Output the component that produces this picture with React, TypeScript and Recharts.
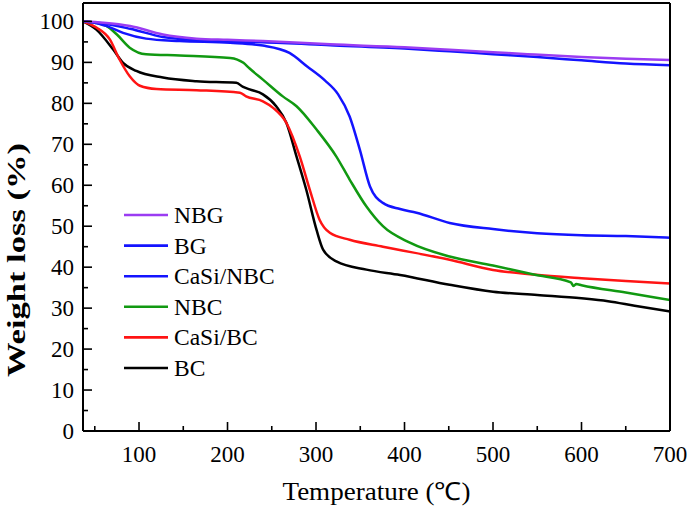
import React from 'react';
import { LineChart, Line, XAxis, YAxis, Legend } from 'recharts';

const FONT = '"Liberation Serif", "Times New Roman", Times, serif';

// Temperature (°C) / weight (%) samples
const NBG_T = [37, 60, 90, 127, 165, 200, 240, 316, 400, 451, 500, 539, 600, 650, 700];
const NBG_W = [100, 99.7, 98.9, 96.8, 95.8, 95.5, 95.2, 94.4, 93.7, 93.1, 92.5, 92.0, 91.3, 90.9, 90.6];

const BG_T = [37, 60, 90, 127, 165, 200, 240, 316, 400, 451, 500, 550, 600, 650, 700];
const BG_W = [100, 99.5, 98.2, 96.2, 95.4, 95.1, 94.9, 94.2, 93.4, 92.7, 92.0, 91.3, 90.5, 89.7, 89.3];

const CASI_NBC_T = [37, 50, 63, 82, 108, 146, 203, 240, 270, 290, 310, 325, 338, 349.5, 361, 375.6, 395, 413.6, 451, 500, 550, 600, 650, 700];
const CASI_NBC_W = [100, 99.7, 98.9, 97.2, 95.8, 95.2, 94.8, 94.1, 92.3, 89.0, 85.6, 82.2, 76.8, 68.7, 59.7, 55.7, 54.2, 53.3, 50.8, 49.3, 48.3, 47.8, 47.6, 47.2];

const NBC_T = [37, 50, 63, 75, 89.5, 108, 146, 203, 218, 225, 240, 262.5, 278, 300.6, 323, 338, 357, 375.6, 406, 451, 500, 546, 588, 591, 594, 600, 650, 700];
const NBC_W = [100, 99.7, 98.9, 96.8, 93.6, 92, 91.7, 91.1, 89.9, 88.5, 85.8, 81.7, 79.3, 73.6, 67, 61.4, 54.8, 50, 46, 42.6, 40.4, 38.2, 36.3, 35.4, 35.9, 35.6, 33.8, 32];

const CASI_BC_T = [37, 51.8, 67, 78, 89.5, 101, 119.7, 165, 214, 221, 240, 251.5, 266.6, 281.7, 293, 304, 315.6, 338, 375.6, 451, 500, 546, 600, 650, 700];
const CASI_BC_W = [100, 98.5, 95.6, 90.7, 86.6, 84.3, 83.5, 83.2, 82.6, 81.7, 80.5, 78.9, 75.2, 67, 58.9, 51.6, 48.4, 46.7, 45, 41.8, 39.3, 38.2, 37.3, 36.6, 36];

const BC_T = [37, 51.8, 70.6, 82, 97, 127, 165, 210, 217.6, 225, 240, 255, 266.6, 278, 289, 300.6, 308, 323, 357, 395, 451, 500, 550, 600, 630, 660, 700];
const BC_W = [100, 98, 93.2, 89.9, 87.9, 86.3, 85.4, 85, 84, 83.4, 82.2, 79.3, 75.2, 67, 58.9, 49.1, 44.3, 41.4, 39.4, 38.1, 35.7, 34, 33.2, 32.4, 31.7, 30.6, 29.2];

const X_TICKS = [50, 100, 150, 200, 250, 300, 350, 400, 450, 500, 550, 600, 650, 700];
const Y_TICKS = [0, 5, 10, 15, 20, 25, 30, 35, 40, 45, 50, 55, 60, 65, 70, 75, 80, 85, 90, 95, 100];

const mk = (t: number[], w: number[]) => t.map((x, i) => ({ t: x, w: w[i] }));

const SERIES = [
  { name: 'NBG', color: '#9b3cf2', data: mk(NBG_T, NBG_W) },
  { name: 'BG', color: '#1414ff', data: mk(BG_T, BG_W) },
  { name: 'CaSi/NBC', color: '#1414ff', data: mk(CASI_NBC_T, CASI_NBC_W) },
  { name: 'NBC', color: '#119911', data: mk(NBC_T, NBC_W) },
  { name: 'CaSi/BC', color: '#ff1414', data: mk(CASI_BC_T, CASI_BC_W) },
  { name: 'BC', color: '#000000', data: mk(BC_T, BC_W) },
];

const DRAW_ORDER = ['BC', 'CaSi/BC', 'NBC', 'CaSi/NBC', 'BG', 'NBG'];

const XTick = (props: any) => {
  const { x, y, payload } = props;
  const major = payload.value % 100 === 0;
  return (
    <g>
      <line x1={x} x2={x} y1={y} y2={y - (major ? 9 : 5)} stroke="#000" strokeWidth={1.6} />
      {major && (
        <text x={x} y={y + 31} textAnchor="middle" fontFamily={FONT} fontSize={23} fill="#000">
          {payload.value}
        </text>
      )}
    </g>
  );
};

const YTick = (props: any) => {
  const { x, y, payload } = props;
  const major = payload.value % 10 === 0;
  return (
    <g>
      <line x1={x} x2={x + (major ? 9 : 5)} y1={y} y2={y} stroke="#000" strokeWidth={1.6} />
      {major && (
        <text x={x - 9} y={y + 8} textAnchor="end" fontFamily={FONT} fontSize={23} fill="#000">
          {payload.value}
        </text>
      )}
    </g>
  );
};

const LEG_LEFT = 110;
const LEG_TOP = 195;

const LegendBox = () => (
  <svg width={220} height={195} style={{ display: 'block', overflow: 'visible' }}>
    {SERIES.map((s, i) => {
      const cy = 20 + i * 30.6;
      return (
        <g key={s.name}>
          <line x1={14} x2={58} y1={cy} y2={cy} stroke={s.color} strokeWidth={2.6} />
          <text x={64} y={cy + 8} fontFamily={FONT} fontSize={23.5} fill="#000">
            {s.name}
          </text>
        </g>
      );
    })}
  </svg>
);

const XLabel = () => (
  <text x={376.5} y={500} textAnchor="middle" fontFamily={FONT} fontSize={25} fill="#000"
    textLength={188} lengthAdjust="spacingAndGlyphs">
    Temperature (℃)
  </text>
);

const YLabel = () => (
  <text x={0} y={0} transform="translate(25, 260) rotate(-90)" textAnchor="middle" fontFamily={FONT}
    fontSize={25} fontWeight="bold" fill="#000" textLength={234} lengthAdjust="spacingAndGlyphs">
    Weight loss (%)
  </text>
);

export default function App() {
  const ordered = DRAW_ORDER.map((n) => SERIES.find((s) => s.name === n)!);
  return (
    <div style={{ position: 'absolute', left: 0, top: 0, width: 688, height: 509, background: '#fff' }}>
      <LineChart width={688} height={509} margin={{ top: 2, right: 17, bottom: 77, left: 82 }}>
        <XAxis
          dataKey="t"
          type="number"
          domain={[36.7, 700]}
          ticks={X_TICKS}
          interval={0}
          height={1}
          tickSize={0}
          tickMargin={0}
          tickLine={false}
          tick={<XTick />}
          axisLine={{ stroke: '#000', strokeWidth: 2 }}
          allowDataOverflow
          label={<XLabel />}
        />
        <XAxis
          xAxisId="top"
          orientation="top"
          type="number"
          domain={[36.7, 700]}
          height={1}
          tick={false}
          tickLine={false}
          axisLine={{ stroke: '#000', strokeWidth: 2 }}
        />
        <YAxis
          type="number"
          domain={[0, 104.5]}
          ticks={Y_TICKS}
          interval={0}
          width={1}
          tickSize={0}
          tickMargin={0}
          tickLine={false}
          tick={<YTick />}
          axisLine={{ stroke: '#000', strokeWidth: 2 }}
          allowDataOverflow
          label={<YLabel />}
        />
        <YAxis
          yAxisId="right"
          orientation="right"
          type="number"
          domain={[0, 104.5]}
          width={1}
          tick={false}
          tickLine={false}
          axisLine={{ stroke: '#000', strokeWidth: 2 }}
        />
        {ordered.map((s) => (
          <Line
            key={s.name}
            data={s.data}
            dataKey="w"
            name={s.name}
            type="monotone"
            stroke={s.color}
            strokeWidth={2.5}
            dot={false}
            activeDot={false}
            isAnimationActive={false}
          />
        ))}
        <Legend
          layout="horizontal"
          verticalAlign="middle"
          align="center"
          content={<LegendBox />}
          wrapperStyle={{ left: LEG_LEFT, top: LEG_TOP, width: 220, height: 195 }}
        />
      </LineChart>
    </div>
  );
}
